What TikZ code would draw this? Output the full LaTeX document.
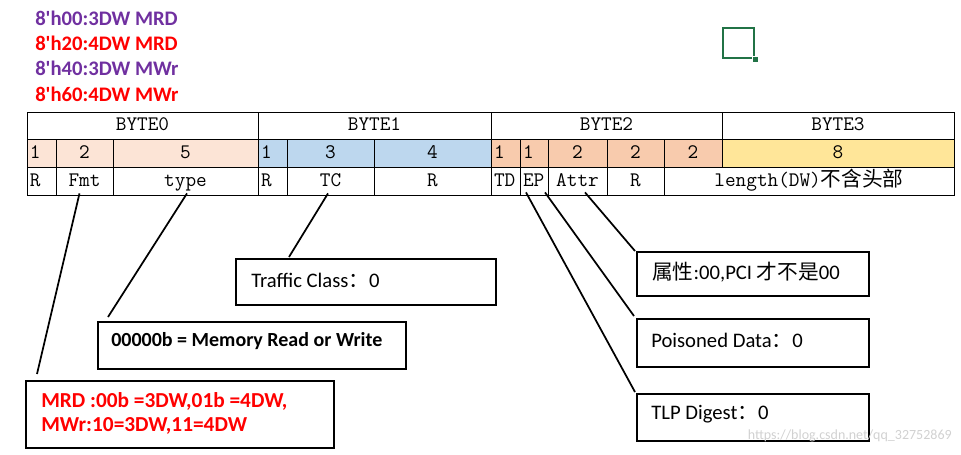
\documentclass[tikz,border=0pt]{standalone}
\usepackage{fontspec}
\setmainfont{Carlito}
\newfontfamily\hdfont{Carlito}[Ligatures=TeXOff]
\newfontfamily\cjk{Noto Sans CJK SC}
\usetikzlibrary{calc}
\definecolor{pk}{HTML}{FCE4D6}
\definecolor{bl}{HTML}{BDD7EE}
\definecolor{orr}{HTML}{F8CBAD}
\definecolor{yl}{HTML}{FFE699}
\definecolor{pu}{HTML}{7030A0}
\definecolor{xg}{HTML}{217346}
% centered cell: name, x1, x2, y1, y2, fill, text
\newcommand\tcell[7]{\node[cellst,fill=#6,minimum width={(#3-#2)*0.75pt},minimum height={(#5-#4)*0.75pt}] (#1) at ({(#2+#3)/2},{(#4+#5)/2}) {#7};}
% left aligned cell
\newcommand\lcell[7]{\node[cellst,fill=#6,minimum width={(#3-#2)*0.75pt},minimum height={(#5-#4)*0.75pt}] (#1) at ({(#2+#3)/2},{(#4+#5)/2}) {};
\node[cellst,draw=none,anchor=west,minimum height={(#5-#4)*0.75pt}] (#1t) at ($(#1.west)+(3,0)$) {#7};}
% box: name, x1, y1, x2, y2
\newcommand\bx[5]{\node[box,minimum width={(#4-#2)*0.75pt},minimum height={(#5-#3)*0.75pt}] (#1) at (#2,#3) {};}
\begin{document}
\begin{tikzpicture}[x=0.75pt,y=-0.75pt,
  cellst/.style={draw=black,line width=0.6pt,inner sep=0pt,text height=10.5pt,text depth=3pt,font=\ttfamily\fontsize{15.5}{17}\selectfont},
  box/.style={draw=black,line width=1.6pt,inner sep=0pt,anchor=north west},
  lnk/.style={line width=1.3pt,black},
  btxt/.style={anchor=west,inner sep=0pt,font=\fontsize{15.5}{18}\selectfont},
  hd/.style={anchor=west,inner sep=0pt,font=\hdfont\bfseries\fontsize{15.5}{18}\selectfont}]
\useasboundingbox (0,0) rectangle (961,454);
% header lines
\node[hd,text=pu] (h1) at (35,18) {8'h00:3DW MRD};
\node[hd,text=red] (h2) at (35,43) {8'h20:4DW MRD};
\node[hd,text=pu] (h3) at (35,68) {8'h40:3DW MWr};
\node[hd,text=red] (h4) at (35,94) {8'h60:4DW MWr};
% excel cursor
\node[draw=xg,line width=1.6pt,minimum width={31*0.75pt},minimum height={30*0.75pt},inner sep=0pt,anchor=north west] (cur) at (722,27) {};
\node[fill=xg,draw=white,line width=0.5pt,minimum size={6*0.75pt},inner sep=0pt] (curh) at (cur.south east) {};
% row 1
\tcell{b0}{27}{258}{112}{139}{white}{BYTE0}
\tcell{b1}{258}{491}{112}{139}{white}{BYTE1}
\tcell{b2}{491}{722}{112}{139}{white}{BYTE2}
\tcell{b3}{722}{954}{112}{139}{white}{BYTE3}
% row 2
\lcell{n1}{27}{56}{139}{167}{pk}{1}
\tcell{n2}{56}{113}{139}{167}{pk}{2}
\tcell{n3}{113}{258}{139}{167}{pk}{5}
\lcell{n4}{258}{287}{139}{167}{bl}{1}
\tcell{n5}{287}{374}{139}{167}{bl}{3}
\tcell{n6}{374}{491}{139}{167}{bl}{4}
\lcell{n7}{491}{520}{139}{167}{orr}{1}
\lcell{n8}{520}{548}{139}{167}{orr}{1}
\tcell{n9}{548}{607}{139}{167}{orr}{2}
\tcell{n10}{607}{664}{139}{167}{orr}{2}
\tcell{n11}{664}{722}{139}{167}{orr}{2}
\tcell{n12}{722}{954}{139}{167}{yl}{8}
% row 3
\lcell{r1}{27}{56}{167}{195}{white}{R}
\tcell{fmt}{56}{113}{167}{195}{white}{Fmt}
\tcell{type}{113}{258}{167}{195}{white}{type}
\lcell{r2}{258}{287}{167}{195}{white}{R}
\tcell{tc}{287}{374}{167}{195}{white}{TC}
\tcell{r3}{374}{491}{167}{195}{white}{R}
\lcell{td}{491}{520}{167}{195}{white}{TD}
\lcell{ep}{520}{548}{167}{195}{white}{EP}
\tcell{attr}{548}{607}{167}{195}{white}{Attr}
\tcell{r4}{607}{664}{167}{195}{white}{R}
\tcell{len}{664}{954}{167}{195}{white}{length(DW){\cjk 不含头部}}
% boxes
\bx{traffic}{235}{258}{495}{304}
\bx{mem}{97}{321}{405}{368}
\bx{mrd}{25}{380}{333}{447}
\bx{attrb}{636}{251}{868}{295}
\bx{poison}{636}{318}{868}{366}
\bx{tlp}{636}{393}{868}{440}
% box texts
\node[btxt] (ttraffic) at (251,280) {Traffic Class{\cjk ：}0};
\node[btxt,font=\bfseries\fontsize{15}{18}\selectfont] (tmem) at (111,341) {00000b = Memory Read or Write};
\node[btxt,text=red,font=\bfseries\fontsize{16}{19}\selectfont] (tmrd1) at (41,401) {MRD :00b =3DW,01b =4DW,};
\node[btxt,text=red,font=\bfseries\fontsize{16}{19}\selectfont] (tmrd2) at (41,426) {MWr:10=3DW,11=4DW};
\node[btxt] (tattr) at (652,272) {{\cjk 属性}:00,PCI {\cjk 才不是}00};
\node[btxt] (tpoison) at (651,340) {Poisoned Data{\cjk ：}0};
\node[btxt] (ttlp) at (651,414) {TLP Digest{\cjk ：}0};
% connectors
\draw[lnk] ($(fmt.south)+(-5,-2)$) -- ($(mrd.north west)+(12,-6)$);
\draw[lnk] ($(type.south)+(1.5,-2)$) -- ($(mem.north west)+(11,-4)$);
\draw[lnk] ($(tc.south)+(-2.5,-2)$) -- ($(traffic.north west)+(54,-1)$);
\draw[lnk] ($(attr.south)+(7.5,-3)$) -- ($(attrb.north west)+(-1,0)$);
\draw[lnk] ($(ep.south)+(11,-3)$) -- ($(poison.north west)+(-2,-2)$);
\draw[lnk] ($(ep.south)+(-8,-3)$) -- ($(tlp.north west)+(-1,-1)$);
% watermark
\node[anchor=east,inner sep=0pt,text=black!18,font=\fontsize{10.5}{12}\selectfont] (wm) at (952,436) {https://blog.csdn.net/qq\_32752869};
\end{tikzpicture}
\end{document}
